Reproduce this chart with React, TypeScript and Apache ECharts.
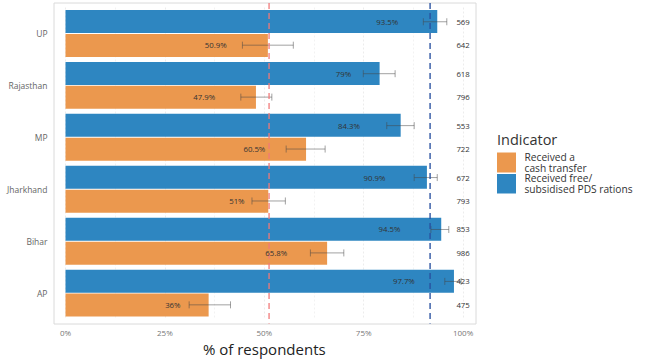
import React, { useEffect, useRef } from "react";
import * as echarts from "echarts";

const states = ["UP", "Rajasthan", "MP", "Jharkhand", "Bihar", "AP"];
const seriesNames = ["Received free/\nsubsidised PDS rations", "Received a\ncash transfer"];
const pdsPct = [93.5, 79, 84.3, 90.9, 94.5, 97.7];
const cashPct = [50.9, 47.9, 60.5, 51, 65.8, 36];
const pdsLow = [90.0, 74.9, 80.8, 87.7, 91.9, 95.4];
const pdsHigh = [95.9, 82.9, 87.7, 93.5, 96.4, 99.5];
const cashLow = [44.5, 44.1, 55.5, 46.9, 61.6, 31.1];
const cashHigh = [57.3, 51.9, 65.3, 55.3, 70.0, 41.5];
const pdsN = [569, 618, 553, 672, 853, 423];
const cashN = [642, 796, 722, 793, 986, 475];
const pdsLabelPos = [80.9, 69.9, 71.3, 77.7, 81.5, 85.1];
const cashLabelPos = [37.8, 34.9, 47.5, 43.1, 53.0, 27.0];
const pdsRef = 91.7;
const cashRef = 51.2;
const nPos = 100;

const BLUE = "#2E86C1";
const ORANGE = "#EB984E";
const FONT = "'Open Sans', 'Noto Sans', sans-serif";

export default function App() {
  const ref = useRef<HTMLDivElement>(null);
  useEffect(() => {
    document.body.style.margin = "0";
    if (!ref.current) return;
    const chart = echarts.init(ref.current, null, { renderer: "svg" });
    const SIDE = 0.2255;

    const errData: number[][] = [];
    states.forEach((_, i) => {
      errData.push([i, pdsLow[i], pdsHigh[i], -1]);
      errData.push([i, cashLow[i], cashHigh[i], 1]);
    });
    const labelData: any[] = [];
    states.forEach((_, i) => {
      labelData.push([i, pdsLabelPos[i], -1, pdsPct[i] + "%"]);
      labelData.push([i, cashLabelPos[i], 1, cashPct[i] + "%"]);
      labelData.push([i, nPos, -1, String(pdsN[i])]);
      labelData.push([i, nPos, 1, String(cashN[i])]);
    });
    const refData = [
      [pdsRef, 0, 0],
      [cashRef, 0, 1],
    ];

    const legendText = (y: number, text: string) => ({
      type: "text",
      x: 524.5,
      y,
      style: {
        text,
        fontSize: 10.2,
        lineHeight: 10.8,
        fontFamily: FONT,
        fill: "#333",
        verticalAlign: "middle",
      },
    });

    chart.setOption({
      animation: false,
      textStyle: { fontFamily: FONT },
      grid: { left: 65.5, right: 186.9, top: 7.5, height: 312, containLabel: false },
      graphic: [
        {
          type: "rect",
          shape: { x: 54, y: 3, width: 422, height: 321 },
          style: { fill: "none", stroke: "#dadada", lineWidth: 1 },
          z: -1,
        },
        {
          type: "text",
          x: 497,
          y: 139,
          style: {
            text: "Indicator",
            fontSize: 14.5,
            fontFamily: FONT,
            fill: "#333",
            verticalAlign: "middle",
          },
        },
        { type: "rect", shape: { x: 497, y: 152.5, width: 19, height: 20 }, style: { fill: ORANGE } },
        { type: "rect", shape: { x: 497, y: 174, width: 19, height: 19.5 }, style: { fill: BLUE } },
        legendText(162.5, seriesNames[1]),
        legendText(183.7, seriesNames[0]),
      ],
      xAxis: {
        type: "value",
        min: 0,
        max: 100,
        interval: 25,
        name: "% of respondents",
        nameLocation: "middle",
        nameGap: 15,
        nameTextStyle: { fontSize: 15, color: "#222", verticalAlign: "top" },
        axisLine: { show: false },
        axisTick: { show: false },
        axisLabel: { formatter: "{value}%", fontSize: 8, color: "#777", margin: 9 },
        splitLine: { show: true, lineStyle: { color: "#ececec", type: [2, 2] } },
        minorTick: { show: false, splitNumber: 2 },
        minorSplitLine: { show: true, lineStyle: { color: "#f2f2f2", type: [2, 2] } },
      },
      yAxis: {
        type: "category",
        data: states,
        inverse: true,
        axisLine: { show: false },
        axisTick: { show: false },
        axisLabel: { fontSize: 8.5, color: "#666", margin: 18 },
      },
      series: [
        {
          name: seriesNames[0],
          type: "bar",
          data: pdsPct,
          barWidth: 23,
          barGap: "4%",
          itemStyle: { color: BLUE },
        },
        {
          name: seriesNames[1],
          type: "bar",
          data: cashPct,
          barWidth: 23,
          barGap: "4%",
          itemStyle: { color: ORANGE },
        },
        {
          type: "custom",
          z: 5,
          encode: { x: [1, 2], y: 0 },
          data: errData,
          renderItem: (params: any, api: any) => {
            const ci = api.value(0);
            const p1 = api.coord([api.value(1), ci]);
            const p2 = api.coord([api.value(2), ci]);
            const band = api.size([0, 1])[1];
            const y = p1[1] + api.value(3) * band * SIDE;
            const st = { stroke: "rgba(70,70,70,0.5)", lineWidth: 1 };
            return {
              type: "group",
              children: [
                { type: "line", shape: { x1: p1[0], y1: y, x2: p2[0], y2: y }, style: st },
                { type: "line", shape: { x1: p1[0], y1: y - 3.5, x2: p1[0], y2: y + 3.5 }, style: st },
                { type: "line", shape: { x1: p2[0], y1: y - 3.5, x2: p2[0], y2: y + 3.5 }, style: st },
              ],
            };
          },
        },
        {
          type: "custom",
          z: 6,
          encode: { x: 0, y: 1 },
          data: refData,
          renderItem: (params: any, api: any) => {
            const cs = params.coordSys;
            const p = api.coord([api.value(0), 0]);
            const isCash = api.value(2) === 1;
            return {
              type: "line",
              shape: { x1: p[0], y1: cs.y - 4.5, x2: p[0], y2: cs.y + cs.height + 4.5 },
              style: {
                stroke: isCash ? "rgba(240,120,120,0.8)" : "rgba(40,80,160,0.85)",
                lineWidth: 1.6,
                lineDash: [6, 4],
              },
            };
          },
        },
        {
          type: "custom",
          z: 7,
          encode: { x: 1, y: 0 },
          data: labelData,
          renderItem: (params: any, api: any) => {
            const ci = api.value(0);
            const p = api.coord([api.value(1), ci]);
            const band = api.size([0, 1])[1];
            const y = p[1] + api.value(2) * band * SIDE;
            const d = labelData[params.dataIndex];
            return {
              type: "text",
              x: p[0],
              y: y,
              style: {
                text: d[3],
                align: "center",
                verticalAlign: "middle",
                fontSize: 7.8,
                fontFamily: FONT,
                fill: "#333",
              },
            };
          },
        },
      ],
    });
    return () => chart.dispose();
  }, []);
  return <div ref={ref} style={{ width: 650, height: 361 }} />;
}
